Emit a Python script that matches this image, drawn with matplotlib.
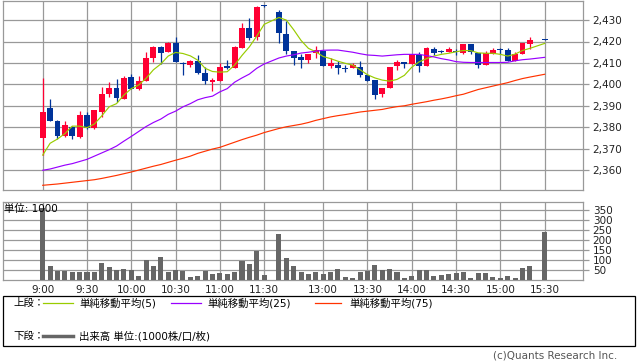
import numpy as np
import pandas as pd
import matplotlib
matplotlib.use("Agg")
import matplotlib.pyplot as plt
from matplotlib.lines import Line2D
from matplotlib.patches import Rectangle
from matplotlib.ticker import FuncFormatter

# 5-minute bars: morning 9:00-11:30, afternoon 12:30-15:30 (no 15:25 bar)
times = (list(pd.date_range("09:00", "11:30", freq="5min").strftime("%H:%M"))
         + [t for t in pd.date_range("12:30", "15:30", freq="5min").strftime("%H:%M") if t != "15:25"])

opens = [2375, 2389, 2383, 2376, 2380, 2375.5, 2385.5, 2379.5, 2387, 2395.5,
         2398.5, 2393, 2403.5, 2398, 2401.5, 2412.5, 2417.5, 2415, 2419.5, 2410,
         2409, 2411, 2405.5, 2401, 2401.5, 2408.5, 2407.5, 2417, 2426.5, 2422,
         2437,
         2434, 2423.5, 2415.5, 2413, 2411.5, 2414.5, 2415.5, 2408.5, 2409, 2407.5,
         2407.5, 2408, 2404.5, 2402, 2395.5, 2398.5, 2408.5, 2410.5, 2409.5, 2413.5,
         2408.5, 2416.5, 2415.5, 2415, 2415.5, 2414.5, 2419, 2414.5, 2409, 2414,
         2416.5, 2416, 2411, 2414, 2419, 2421]
highs = [2403, 2393, 2383.5, 2383, 2380.5, 2387.5, 2387, 2388, 2399, 2401,
         2402.5, 2404, 2405, 2404, 2415, 2418, 2418, 2420, 2422, 2410.5,
         2411.5, 2413.5, 2408, 2403, 2410, 2411.5, 2418, 2428.5, 2431, 2436.5,
         2437,
         2434.5, 2429.5, 2415.5, 2414, 2414, 2418, 2415.5, 2412.5, 2411, 2409,
         2410, 2411, 2404.5, 2402, 2398.5, 2408, 2411.5, 2410.5, 2414, 2415,
         2417.5, 2417.5, 2416, 2417.5, 2416.5, 2419, 2419, 2414.5, 2415.5, 2417,
         2417, 2417, 2415, 2419.5, 2422, 2421]
lows = [2367, 2383, 2374.5, 2375.5, 2374.5, 2375, 2379, 2379, 2385, 2394,
        2392, 2393, 2398, 2397.5, 2401.5, 2410.5, 2409.5, 2415, 2410.5, 2404.5,
        2408, 2405, 2400, 2397, 2401.5, 2407, 2407.5, 2417, 2420.5, 2420.5,
        2436,
        2419.5, 2414, 2409, 2407.5, 2410, 2412.5, 2408.5, 2407.5, 2405, 2406,
        2407.5, 2403.5, 2401.5, 2393, 2394, 2398.5, 2406.5, 2407.5, 2409.5, 2406,
        2408.5, 2413.5, 2414.5, 2415, 2413.5, 2414, 2414, 2407.5, 2409, 2414,
        2414, 2411, 2411, 2414, 2416.5, 2420.5]
closes = [2387, 2383, 2376, 2381, 2376, 2385.5, 2379.5, 2388, 2395.5, 2398.5,
          2393.5, 2403, 2398, 2401.5, 2412.5, 2417.5, 2414.5, 2419.5, 2410.5, 2409.5,
          2411, 2405.5, 2401.5, 2402, 2408, 2407.5, 2417.5, 2426.5, 2421.5, 2436,
          2436.5,
          2424, 2415.5, 2412.5, 2411.5, 2414, 2416, 2408.5, 2410, 2407.5, 2407,
          2409, 2404.5, 2401.5, 2395, 2398.5, 2408, 2410.5, 2409.5, 2414, 2408.5,
          2417, 2414.5, 2415, 2416.5, 2415, 2419, 2415, 2409, 2414.5, 2416,
          2416, 2411, 2414, 2419.5, 2420.5, 2420.5]
volume = [360, 73, 48, 48, 41, 41, 41, 41, 86, 66,
          51, 56, 51, 21, 101, 71, 116, 41, 51, 46,
          16, 21, 46, 31, 36, 31, 41, 98, 81, 148,
          26,
          231, 111, 71, 41, 31, 41, 31, 41, 56, 16,
          11, 41, 48, 76, 51, 56, 41, 11, 21, 51,
          51, 21, 26, 31, 36, 41, 11, 36, 36, 16,
          11, 21, 11, 61, 71, 241]

ma5 = [2367, 2372.5, 2374.5, 2377, 2380.5, 2380.5, 2379.8, 2381.5, 2385.3, 2389.5,
       2391, 2395, 2398, 2399.7, 2402.8, 2406.8, 2409.5, 2413.2, 2414.9, 2414.4,
       2413.3, 2411.3, 2407.5, 2406, 2405.7, 2405.9, 2409, 2413.5, 2417.5, 2422.5,
       2428,
       2431.2, 2430, 2425.5, 2420.5, 2416.8, 2415.2, 2413, 2412, 2410.8, 2409.8,
       2409, 2406.8, 2404.5, 2403, 2402, 2401.5, 2402.3, 2404.2, 2408, 2410.5,
       2412, 2413.2, 2414, 2414.5, 2415.2, 2415.8, 2415.7, 2414.7, 2414.5, 2414.5,
       2414, 2413.2, 2414.1, 2415.8, 2416.8, 2419.1]
ma25 = [2359.9, 2360.5, 2361.4, 2362.3, 2363, 2364, 2365, 2366.5, 2368, 2369.5,
        2371.2, 2373.5, 2375.7, 2378, 2380.3, 2382.2, 2383.8, 2386, 2387.5, 2389.5,
        2391, 2392.8, 2393.8, 2394.5, 2396.5, 2398, 2401, 2403, 2404.8, 2407.5,
        2409.5,
        2412.3, 2413.2, 2413.8, 2414.6, 2415, 2415.5, 2415.9, 2416, 2416, 2415.5,
        2415, 2414.3, 2413.7, 2413.5, 2413.2, 2413.5, 2413.8, 2414, 2414, 2414,
        2413.4, 2412.8, 2412, 2411.4, 2410.6, 2410.3, 2410.2, 2410.2, 2410.2, 2410.2,
        2410.2, 2410.3, 2411, 2411.5, 2411.8, 2412.6]
ma75 = [2352.9, 2353.2, 2353.5, 2353.9, 2354.3, 2354.7, 2355.1, 2355.5, 2356.1, 2356.8,
        2357.5, 2358.3, 2359.1, 2360, 2360.9, 2361.8, 2362.6, 2363.6, 2364.6, 2365.5,
        2366.5, 2367.8, 2368.8, 2369.8, 2370.6, 2371.8, 2373, 2374.2, 2375.3, 2376.3,
        2377.5,
        2379.4, 2380.2, 2380.8, 2381.4, 2382.2, 2383.2, 2384, 2384.8, 2385.4, 2385.9,
        2386.5, 2387.1, 2387.5, 2387.9, 2388.3, 2389, 2389.6, 2390, 2390.7, 2391.3,
        2391.9, 2392.6, 2393.2, 2393.9, 2394.7, 2395.4, 2396.5, 2397.6, 2398.4, 2399.2,
        2400, 2400.8, 2401.8, 2402.7, 2403.4, 2404.7]

tick_labels = ["9:00", "9:30", "10:00", "10:30", "11:00", "11:30",
               "13:00", "13:30", "14:00", "14:30", "15:00", "15:30"]


def slot(hhmm):
    # lunch break collapsed into one empty slot
    h, m = map(int, hhmm.split(":"))
    t = h * 60 + m
    return (t - 540) / 5 if t <= 690 else (t - 750) / 5 + 32


x = np.array([slot(t) for t in times])
o, h, l, c = map(np.array, (opens, highs, lows, closes))
up = c >= o
col = np.where(up, "#ff0033", "#003399")

GRID = "#999999"
TXT = "#222222"
JP = ["DejaVu Sans", "Noto Sans CJK JP"]

fig = plt.figure(figsize=(6.38, 3.62), dpi=100)
W, H = 638, 362
ax = fig.add_axes([3 / W, 1 - 190 / H, 580 / W, 189 / H])
axv = fig.add_axes([3 / W, 1 - 280.4 / H, 580 / W, 78.7 / H])

xt = [slot(t) for t in tick_labels]
for a in (ax, axv):
    a.set_xlim(-5.38, 73.2)
    a.set_xticks(xt)
    a.grid(True, color=GRID, lw=0.9)
    a.set_axisbelow(True)
    for s in a.spines.values():
        s.set_color(GRID)
        s.set_linewidth(0.9)
    a.yaxis.tick_right()
    a.tick_params(axis="y", length=4, width=0.9, color=GRID, pad=3,
                  labelsize=7.5, labelcolor=TXT)
    a.tick_params(axis="x", length=0, labelsize=7.5, labelcolor=TXT, pad=3)

# candles
ax.vlines(x, l, h, colors=col, lw=0.9, zorder=2)
ax.bar(x, np.maximum(np.abs(c - o), 0.5), bottom=np.minimum(o, c), width=0.8,
       color=col, zorder=3)
for ma, cc in ((ma5, "#99cc00"), (ma25, "#9900ff"), (ma75, "#ff3300")):
    ax.plot(x, ma, color=cc, lw=0.85, zorder=4)
ax.set_ylim(2350.7, 2438.9)
ax.set_yticks(np.arange(2360, 2431, 10))
ax.yaxis.set_major_formatter(FuncFormatter(lambda v, p: f"{v:,.0f}"))
ax.set_xticklabels([])

# volume
axv.bar(x, volume, width=0.68, color="#666666", zorder=3)
axv.set_ylim(0, 390)
axv.set_yticks(np.arange(50, 351, 50))
axv.set_xticklabels(tick_labels)
fig.text(4 / W, 1 - 209 / H, "単位: 1000", family=JP, fontsize=7.5,
         color="black", va="center", ha="left")

# legend box
fig.add_artist(Rectangle((3 / W, 1 - 346 / H), 632 / W, 50 / H, transform=fig.transFigure,
                         fill=False, edgecolor="black", lw=0.9))
y1, y2 = 1 - 303 / H, 1 - 336 / H
fig.text(13 / W, y1, "上段：", family=JP, fontsize=7.5, va="center")
fig.text(13 / W, y2, "下段：", family=JP, fontsize=7.5, va="center")
legend_rows = [
    (43, 73, 79, y1, "#99cc00", 0.9, "単純移動平均(5)"),
    (171, 201, 207, y1, "#9900ff", 0.9, "単純移動平均(25)"),
    (315, 341, 349, y1, "#ff3300", 0.9, "単純移動平均(75)"),
    (43, 73, 79, y2, "#666666", 2.5, "出来高 単位:(1000株/口/枚)"),
]
for x0, x1, xt0, yy, cc, lw, label in legend_rows:
    fig.add_artist(Line2D([x0 / W, x1 / W], [yy, yy], transform=fig.transFigure,
                          color=cc, lw=lw))
    fig.text(xt0 / W, yy, label, family=JP, fontsize=7.5, va="center")

fig.text(617 / W, 1 - 355 / H, "(c)Quants Research Inc.", fontsize=7.5,
         color="#555555", ha="right", va="center")

fig.savefig("out.png", dpi=100)
